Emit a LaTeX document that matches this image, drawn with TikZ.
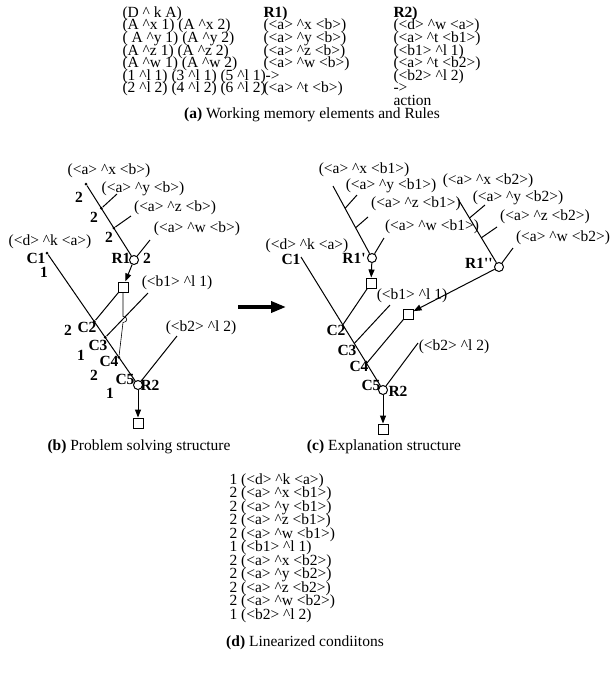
\documentclass[tikz,border=0pt]{standalone}
\usepackage{fontspec}
\setmainfont{Liberation Serif}
\usetikzlibrary{arrows.meta,calc}
\newcommand{\crt}{\textasciicircum}
\newcommand{\tick}{\textquotesingle}
\newcommand{\figfont}{\fontsize{15.5}{12.6}\selectfont\lineskiplimit=-30pt\relax}
\newcommand{\listfont}{\fontsize{15.5}{13.5}\selectfont\lineskiplimit=-30pt\relax}
\tikzset{
  every node/.style={font=\figfont, inner sep=0pt},
  tok/.style={circle, draw, fill=white, minimum size=9pt},
  mem/.style={rectangle, draw, fill=white, minimum size=10pt},
  jdot/.style={circle, fill, minimum size=3pt},
  lab/.style={font=\figfont\bfseries},
  fire/.style={-{Triangle[length=8pt,width=6pt]}},
}
\begin{document}
\begin{tikzpicture}[x=1pt,y=-1pt,line width=1pt]
  \fill[white] (0,0) rectangle (612,675);
  \useasboundingbox (0,0) rectangle (612,675);

  % (a) working memory and rules
  \node[anchor=north west, align=left] (wme) at (122,6) {(D \crt{} k A)\\(A \crt x 1) (A \crt x 2)\\( A \crt y 1) (A \crt y 2)\\(A \crt z 1) (A \crt z 2)\\(A \crt w 1) (A \crt w 2)\\(1 \crt l 1) (3 \crt l 1) (5 \crt l 1)->\\(2 \crt l 2) (4 \crt l 2) (6 \crt l 2)};
  \node[anchor=north west, align=left] (rone) at (263,6) {\textbf{R1)}\\(<a> \crt x <b>)\\(<a> \crt y <b>)\\(<a> \crt z <b>)\\(<a> \crt w <b>)\\~\\(<a> \crt t <b>)};
  \node[anchor=north west, align=left] (rtwo) at (393,6) {\textbf{R2)}\\(<d> \crt w <a>)\\(<a> \crt t <b1>)\\(<b1> \crt l 1)\\(<a> \crt t <b2>)\\(<b2> \crt l 2)\\->\\action};
  \node (capa) at (312,115) {\textbf{(a)} Working memory elements and Rules};

  % (b) problem solving structure
  \node[jdot] (bx) at (86,184) {};
  \node[tok] (bR1) at (134,260) {};
  \node[jdot] (by) at ($(bx)!0.32!(bR1)$) {};
  \node[jdot] (bz) at ($(bx)!0.58!(bR1)$) {};
  \coordinate (bye) at (117,194);
  \coordinate (bze) at (131,216);
  \coordinate (bwe) at (150,240);
  \draw (bx) -- (bR1);
  \draw (by) -- (bye);
  \draw (bz) -- (bze);
  \draw (bR1) -- (bwe);
  \node (bxl) at (109,171) {(<a> \crt x <b>)};
  \node (byl) at (143,189) {(<a> \crt y <b>)};
  \node (bzl) at (175,208) {(<a> \crt z <b>)};
  \node (bwl) at (197,229) {(<a> \crt w <b>)};
  \node[lab] (bn1) at (79,197) {2};
  \node[lab] (bn2) at (94,217) {2};
  \node[lab] (bn3) at (109,237) {2};
  \node[lab] (bn4) at (147,258) {2};
  \node[lab] (bR1l) at (121,258) {R1};

  \node[jdot] (bc1) at (47,253) {};
  \node[tok] (bR2) at (138,385) {};
  \node[jdot] (bc2) at ($(bc1)!0.52!(bR2)$) {};
  \node[jdot] (bc3) at ($(bc1)!0.64!(bR2)$) {};
  \node[jdot] (bc4) at ($(bc1)!0.79!(bR2)$) {};
  \node[mem] (bq1) at (123,287) {};
  \node[mem] (bq2) at (138,423) {};
  \coordinate (bb1) at (148,293);
  \coordinate (bb2) at (177,336);
  \draw (bc1) -- (bR2);
  \draw[fire] (bR1) -- (bq1);
  \draw (bq1) -- (bc2);
  \draw (bb1) -- (bc3);
  \draw[line width=0.6pt] (bq1.south) -- ($(bq1.south)+(0,24)$) .. controls ($(bq1.south)+(5,24)$) and ($(bq1.south)+(5,30)$) .. ($(bq1.south)+(0,30)$) -- (bc4);
  \draw (bb2) -- (bR2);
  \draw[fire] (bR2) -- (bq2);
  \node (bkl) at (50,242) {(<d> \crt k <a>)};
  \node (bb1l) at (177,283) {(<b1> \crt l 1)};
  \node (bb2l) at (201,328) {(<b2> \crt l 2)};
  \node[lab] (bC1) at (36,258) {C1};
  \node[lab] (bC2) at (87,327) {C2};
  \node[lab] (bC3) at (98,345) {C3};
  \node[lab] (bC4) at (109,361) {C4};
  \node[lab] (bC5) at (125,379) {C5};
  \node[lab] (bR2l) at (150,385) {R2};
  \node[lab] (bm1) at (44,272) {1};
  \node[lab] (bm2) at (68,330) {2};
  \node[lab] (bm3) at (81,355) {1};
  \node[lab] (bm4) at (94,375) {2};
  \node[lab] (bm5) at (110,393) {1};
  \node (capb) at (139,447) {\textbf{(b)} Problem solving structure};

  % arrow from (b) to (c)
  \coordinate (ga) at (238,307);
  \coordinate (gb) at (286,307);
  \draw[line width=3.5pt, -{Triangle[length=15pt,width=11pt]}] (ga) -- (gb);

  % (c) explanation structure
  \coordinate (cx) at (333,186);
  \node[tok] (cR1) at (372,258) {};
  \coordinate (cy) at ($(cx)!0.31!(cR1)$);
  \coordinate (cz) at ($(cx)!0.58!(cR1)$);
  \coordinate (cye) at (357,195);
  \coordinate (cze) at (368,217);
  \coordinate (cwe) at (384,238);
  \draw (cx) -- (cR1);
  \draw (cy) -- (cye);
  \draw (cz) -- (cze);
  \draw (cR1) -- (cwe);
  \node (cxl) at (364,170) {(<a> \crt x <b1>)};
  \node (cyl) at (391,186) {(<a> \crt y <b1>)};
  \node (czl) at (416,204) {(<a> \crt z <b1>)};
  \node (cwl) at (432,227) {(<a> \crt w <b1>)};
  \node[lab] (cR1l) at (354,258) {R1\tick};

  \coordinate (dx) at (458,199);
  \node[tok] (dR1) at (499,267) {};
  \coordinate (dy) at ($(dx)!0.28!(dR1)$);
  \coordinate (dz) at ($(dx)!0.57!(dR1)$);
  \coordinate (dye) at (485,205);
  \coordinate (dze) at (497,227);
  \coordinate (dwe) at (513,248);
  \draw (dx) -- (dR1);
  \draw (dy) -- (dye);
  \draw (dz) -- (dze);
  \draw (dR1) -- (dwe);
  \node (dxl) at (488,181) {(<a> \crt x <b2>)};
  \node (dyl) at (518,198) {(<a> \crt y <b2>)};
  \node (dzl) at (545,217) {(<a> \crt z <b2>)};
  \node (dwl) at (563,238) {(<a> \crt w <b2>)};
  \node[lab] (dR1l) at (479,263) {R1\tick\tick};

  \coordinate (cc1) at (301,257);
  \node[tok] (cR2) at (383,390) {};
  \coordinate (cc2) at ($(cc1)!0.51!(cR2)$);
  \coordinate (cc3) at ($(cc1)!0.65!(cR2)$);
  \coordinate (cc4) at ($(cc1)!0.80!(cR2)$);
  \node[mem] (cq1) at (371,283) {};
  \node[mem] (cq2) at (408,314) {};
  \node[mem] (cq3) at (383,429) {};
  \coordinate (cb1) at (390,305);
  \coordinate (cb2) at (418,343);
  \draw (cc1) -- (cR2);
  \draw[fire] (cR1) -- (cq1);
  \draw[fire] (dR1) -- (cq2);
  \draw (cq1) -- (cc2);
  \draw (cb1) -- (cc3);
  \draw (cq2) -- (cc4);
  \draw (cb2) -- (cR2);
  \draw[fire] (cR2) -- (cq3);
  \node (ckl) at (307,246) {(<d> \crt k <a>)};
  \node (cb1l) at (412,296) {(<b1> \crt l 1)};
  \node (cb2l) at (454,347) {(<b2> \crt l 2)};
  \node[lab] (cC1) at (291,259) {C1};
  \node[lab] (cC2) at (336,330) {C2};
  \node[lab] (cC3) at (347,350) {C3};
  \node[lab] (cC4) at (359,366) {C4};
  \node[lab] (cC5) at (371,385) {C5};
  \node[lab] (cR2l) at (398,391) {R2};
  \node (capc) at (384,447) {\textbf{(c)} Explanation structure};

  % (d) linearized conditions
  \node[anchor=north west, align=left, font=\listfont] (lin) at (229,473) {1 (<d> \crt k <a>)\\2 (<a> \crt x <b1>)\\2 (<a> \crt y <b1>)\\2 (<a> \crt z <b1>)\\2 (<a> \crt w <b1>)\\1 (<b1> \crt l 1)\\2 (<a> \crt x <b2>)\\2 (<a> \crt y <b2>)\\2 (<a> \crt z <b2>)\\2 (<a> \crt w <b2>)\\1 (<b2> \crt l 2)};
  \node (capd) at (305,643) {\textbf{(d)} Linearized condiitons};
\end{tikzpicture}
\end{document}
